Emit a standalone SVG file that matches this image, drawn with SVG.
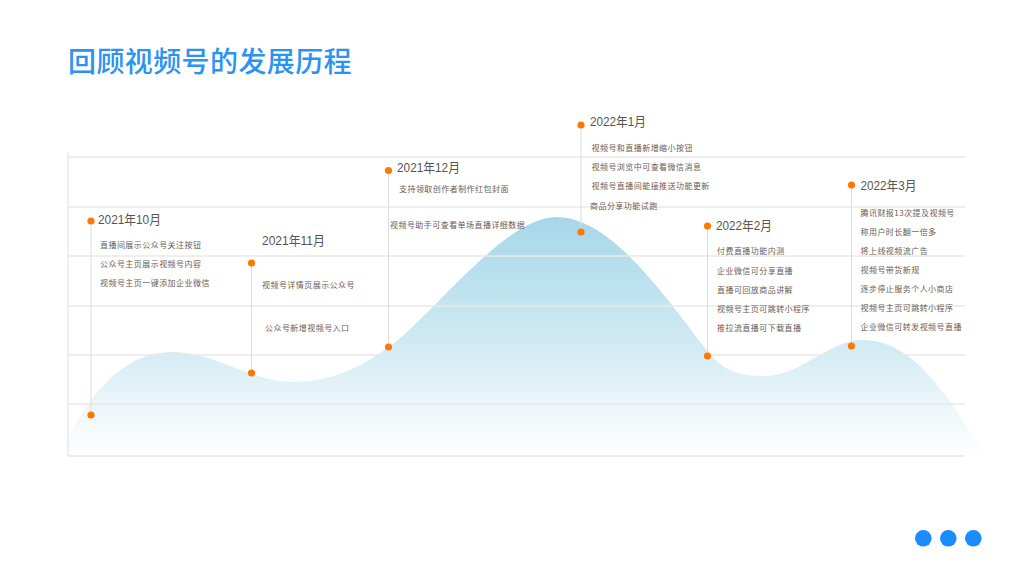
<svg xmlns="http://www.w3.org/2000/svg" width="1024" height="576" viewBox="0 0 1024 576">
<defs>
<linearGradient id="wave" x1="0" y1="217" x2="0" y2="458" gradientUnits="userSpaceOnUse">
<stop offset="0" stop-color="#a6d7e9"/>
<stop offset="0.55" stop-color="#d3ebf4"/>
<stop offset="0.8" stop-color="#eef7fb"/>
<stop offset="1" stop-color="#ffffff"/>
</linearGradient>
<style>
.title{font-family:"Noto Sans CJK SC","Liberation Sans",sans-serif;font-size:28px;letter-spacing:0.4px;fill:#2b93f3;font-weight:500}
.grid{stroke:#e8e8e8;stroke-width:1.5;fill:none}
.vline{stroke:#dcdcdc;stroke-width:1;fill:none}
.dot{fill:#ff7800}
.date{font-family:"Liberation Sans","Noto Sans CJK SC",sans-serif;font-size:13px;fill:#555555}
.item{font-family:"Noto Sans CJK SC","Liberation Sans",sans-serif;font-size:8px;letter-spacing:0.45px;fill:#6a5c55}
.more{fill:#1a8cff}
</style>
</defs>
<rect width="1024" height="576" fill="#ffffff"/>
<text class="title" x="68" y="72">回顾视频号的发展历程</text>

<g id="wave-area">
<path fill="url(#wave)" d="M60 456 C80 410 115 352 173 352 C215 352 250 382 293 382 C330 382 360 368 389 347 C430 318 505 217 556 217 C610 217 660 290 708 352 C725 374 745 376 765 376 C800 376 830 340 862 340 C895 340 920 362 945 395 C960 415 975 440 990 460 L60 460 Z"/>
</g>

<g id="grid">
<line class="grid" x1="68" y1="152" x2="68" y2="456"/>
<line class="grid" x1="68" y1="157" x2="965" y2="157"/>
<line class="grid" x1="68" y1="207" x2="965" y2="207"/>
<line class="grid" x1="68" y1="256" x2="965" y2="256"/>
<line class="grid" x1="68" y1="306" x2="965" y2="306"/>
<line class="grid" x1="68" y1="355" x2="965" y2="355"/>
<line class="grid" x1="68" y1="404" x2="965" y2="404"/>
<line class="grid" x1="68" y1="456" x2="965" y2="456"/>
</g>

<g id="connectors">
<line class="vline" x1="91" y1="221" x2="91" y2="415"/>
<line class="vline" x1="251.5" y1="263" x2="251.5" y2="373"/>
<line class="vline" x1="388.5" y1="170.5" x2="388.5" y2="347"/>
<line class="vline" x1="581" y1="125" x2="581" y2="232"/>
<line class="vline" x1="707.5" y1="226" x2="707.5" y2="356"/>
<line class="vline" x1="851.5" y1="185" x2="851.5" y2="346"/>
</g>

<g id="node-2021-10">
<circle class="dot" cx="91" cy="221" r="3.6"/>
<circle class="dot" cx="91" cy="415" r="3.6"/>
<text class="date" x="98" y="224" textLength="63" lengthAdjust="spacingAndGlyphs">2021年10月</text>
<text class="item" x="100" y="248">直播间展示公众号关注按钮</text>
<text class="item" x="100" y="267">公众号主页展示视频号内容</text>
<text class="item" x="100" y="286">视频号主页一键添加企业微信</text>
</g>

<g id="node-2021-11">
<circle class="dot" cx="251.5" cy="263" r="3.6"/>
<circle class="dot" cx="251.5" cy="373" r="3.6"/>
<text class="date" x="262" y="245" textLength="63" lengthAdjust="spacingAndGlyphs">2021年11月</text>
<text class="item" x="262" y="288">视频号详情页展示公众号</text>
<text class="item" x="265" y="331">公众号新增视频号入口</text>
</g>

<g id="node-2021-12">
<circle class="dot" cx="388.5" cy="170.5" r="3.6"/>
<circle class="dot" cx="388.5" cy="347" r="3.6"/>
<text class="date" x="397" y="172" textLength="63" lengthAdjust="spacingAndGlyphs">2021年12月</text>
<text class="item" x="399" y="192">支持领取创作者制作红包封面</text>
<text class="item" x="390" y="227.5">视频号助手可查看单场直播详细数据</text>
</g>

<g id="node-2022-01">
<circle class="dot" cx="581" cy="125" r="3.6"/>
<circle class="dot" cx="581" cy="232" r="3.6"/>
<text class="date" x="590" y="126" textLength="56" lengthAdjust="spacingAndGlyphs">2022年1月</text>
<text class="item" x="591.5" y="151">视频号和直播新增缩小按钮</text>
<text class="item" x="591.5" y="170">视频号浏览中可查看微信消息</text>
<text class="item" x="591.5" y="189">视频号直播间能接推送功能更新</text>
<text class="item" x="590" y="209">商品分享功能试跑</text>
</g>

<g id="node-2022-02">
<circle class="dot" cx="707.5" cy="226" r="3.6"/>
<circle class="dot" cx="707.5" cy="356" r="3.6"/>
<text class="date" x="716" y="229.5" textLength="56" lengthAdjust="spacingAndGlyphs">2022年2月</text>
<text class="item" x="717" y="254">付费直播功能内测</text>
<text class="item" x="717" y="273.5">企业微信可分享直播</text>
<text class="item" x="717" y="293">直播可回放商品讲解</text>
<text class="item" x="717" y="312">视频号主页可跳转小程序</text>
<text class="item" x="717" y="331">推拉流直播可下载直播</text>
</g>

<g id="node-2022-03">
<circle class="dot" cx="851.5" cy="185" r="3.6"/>
<circle class="dot" cx="851.5" cy="346" r="3.6"/>
<text class="date" x="860.5" y="190" textLength="56" lengthAdjust="spacingAndGlyphs">2022年3月</text>
<text class="item" x="860.5" y="216">腾讯财报13次提及视频号</text>
<text class="item" x="860.5" y="235">称用户时长翻一倍多</text>
<text class="item" x="860.5" y="254">将上线视频流广告</text>
<text class="item" x="860.5" y="273">视频号带货新规</text>
<text class="item" x="860.5" y="291.5">逐步停止服务个人小商店</text>
<text class="item" x="860.5" y="311">视频号主页可跳转小程序</text>
<text class="item" x="860.5" y="330">企业微信可转发视频号直播</text>
</g>

<g id="more-dots">
<circle class="more" cx="923.3" cy="538.3" r="8.3"/>
<circle class="more" cx="948.3" cy="538.3" r="8.3"/>
<circle class="more" cx="973.3" cy="538.3" r="8.3"/>
</g>
</svg>
